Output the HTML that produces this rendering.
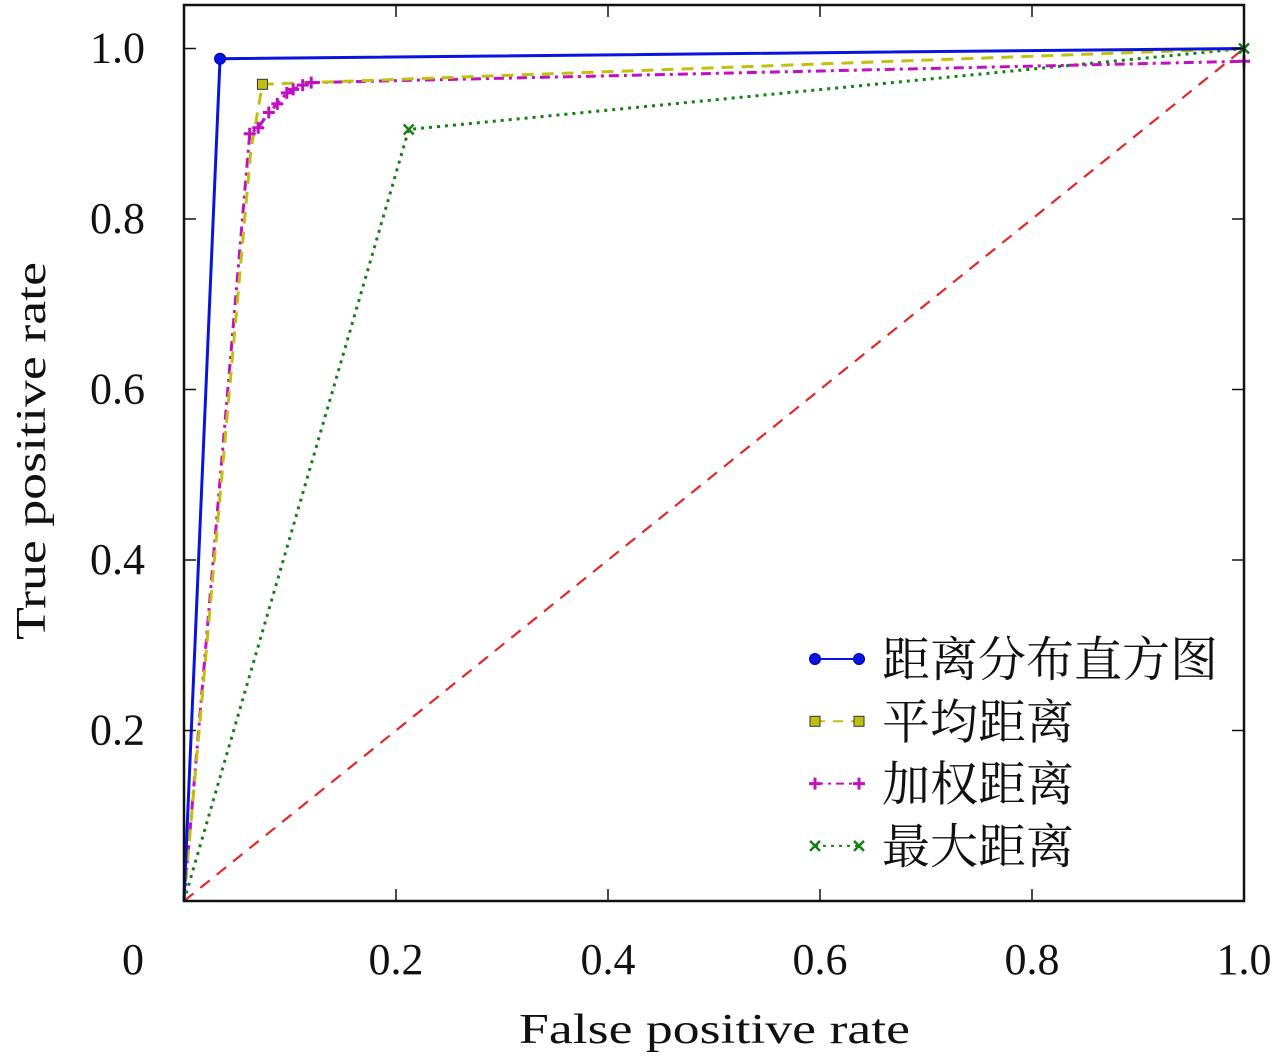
<!DOCTYPE html>
<html><head><meta charset="utf-8"><style>
body{margin:0;background:#fff}
svg{display:block}
text{font-family:"Liberation Serif","Noto Serif CJK SC",serif;fill:#111}
</style></head><body>
<svg id="chart" width="1280" height="1061">
<g id="grid"></g><g id="series"></g>
<rect x="184" y="5" width="1060" height="896" fill="none" stroke="#111" stroke-width="2.5"/>
<g id="axes"></g>
<text x="519" y="1043" font-size="42" textLength="391" lengthAdjust="spacingAndGlyphs">False positive rate</text>
<text transform="translate(45,640) rotate(-90)" font-size="42" textLength="378" lengthAdjust="spacingAndGlyphs">True positive rate</text>
<g id="legend"></g>
</svg>
<script>
const xTicks=[0,0.2,0.4,0.6,0.8,1.0];
const xTickLabels=["0","0.2","0.4","0.6","0.8","1.0"];
const yTicks=[0.2,0.4,0.6,0.8,1.0];
const yTickLabels=["0.2","0.4","0.6","0.8","1.0"];
const seriesNames=["距离分布直方图","平均距离","加权距离","最大距离"];
const histX=[0,0.034,1];
const histY=[0,0.988,1];
const avgX=[0,0.063,0.074,1];
const avgY=[0,0.88,0.958,1];
const wX=[0,0.062,0.07,0.08,0.088,0.097,0.103,0.112,0.12,1];
const wY=[0,0.9,0.907,0.925,0.935,0.948,0.952,0.957,0.96,0.985];
const maxX=[0,0.212,1];
const maxY=[0,0.905,1];
const diagX=[0,1];
const diagY=[0,1];
const X=v=>184+v*1060, Y=v=>901-v*852.5;
const NS="http://www.w3.org/2000/svg";
function mk(tag,attrs,parent){const e=document.createElementNS(NS,tag);for(const k in attrs)e.setAttribute(k,attrs[k]);parent.appendChild(e);return e;}
const axes=document.getElementById('axes');
xTicks.forEach((t,i)=>{
 const a=mk('line',{x1:X(t),x2:X(t),y1:901,y2:889,stroke:'#111','stroke-width':1.5},axes);
 
 
 const b=mk('line',{x1:X(t),x2:X(t),y1:5,y2:17,stroke:'#111','stroke-width':1.5},axes);
 
 
 const tx=mk('text',{x:i==0?133:X(t),y:974,'font-size':44,'text-anchor':'middle'},axes);
 tx.textContent=xTickLabels[i];
 
 
});
yTicks.forEach((t,i)=>{
 const a=mk('line',{x1:184,x2:196,y1:Y(t),y2:Y(t),stroke:'#111','stroke-width':1.5},axes);
 
 
 const b=mk('line',{x1:1232,x2:1244,y1:Y(t),y2:Y(t),stroke:'#111','stroke-width':1.5},axes);
 
 
 const tx=mk('text',{x:145,y:Y(t)+14,'font-size':44,'text-anchor':'end'},axes);
 tx.textContent=yTickLabels[i];
 
 
});
const sg=document.getElementById('series');
function line(xs,ys,color,dash,w,name){
 const p=mk('polyline',{points:xs.map((x,i)=>X(x)+','+Y(ys[i])).join(' '),fill:'none',stroke:color,'stroke-width':w,'stroke-dasharray':dash},sg);
 
 
}
function marker(kind,cx,cy,color,g){
 let e;
 if(kind=='circle')e=mk('circle',{cx,cy,r:5.5,fill:color,stroke:'#00a'},g);
 else if(kind=='square')e=mk('rect',{x:cx-5,y:cy-5,width:10,height:10,fill:color,stroke:'#333','stroke-width':1},g);
 else if(kind=='plus')e=mk('path',{d:`M${cx-6} ${cy}H${cx+6}M${cx} ${cy-6}V${cy+6}`,stroke:color,'stroke-width':3},g);
 else e=mk('path',{d:`M${cx-5} ${cy-5}L${cx+5} ${cy+5}M${cx+5} ${cy-5}L${cx-5} ${cy+5}`,stroke:color,'stroke-width':2.5},g);
 
 
}
line(diagX,diagY,'#e02828','12 9',2.2,'diagonal-reference');
line(maxX,maxY,'#128012','3 5',3,'series-max-distance');
line(wX,wY,'#c010c0','10 5 3 5',3,'series-weighted-distance');
line(avgX,avgY,'#c0c010','12 8',3,'series-average-distance');
line(histX,histY,'#0a14e0','',3,'series-histogram-distance');
for(let i=1;i<maxX.length;i++)marker('x',X(maxX[i]),Y(maxY[i]),'#128012',sg);
for(let i=1;i<wX.length;i++)marker('plus',X(wX[i]),Y(wY[i]),'#c010c0',sg);
marker('square',X(avgX[2]),Y(avgY[2]),'#c0c010',sg);
marker('circle',X(histX[1]),Y(histY[1]),'#0a14e0',sg);
const lg=document.getElementById('legend');
const styles=[['#0a14e0','','circle'],['#c0c010','10 8','square'],['#c010c0','8 5 3 5','plus'],['#128012','3 5','x']];
seriesNames.forEach((n,i)=>{
 const y=659+i*62.3;
 const l=mk('line',{x1:815,x2:859,y1:y,y2:y,stroke:styles[i][0],'stroke-width':2,'stroke-dasharray':styles[i][1]},lg);
 
 
 marker(styles[i][2],815,y,styles[i][0],lg);
 marker(styles[i][2],859,y,styles[i][0],lg);
 const t=mk('text',{x:882,y:y+17,'font-size':48},lg);
 t.textContent=n;
 
 
});
</script>
</body></html>
